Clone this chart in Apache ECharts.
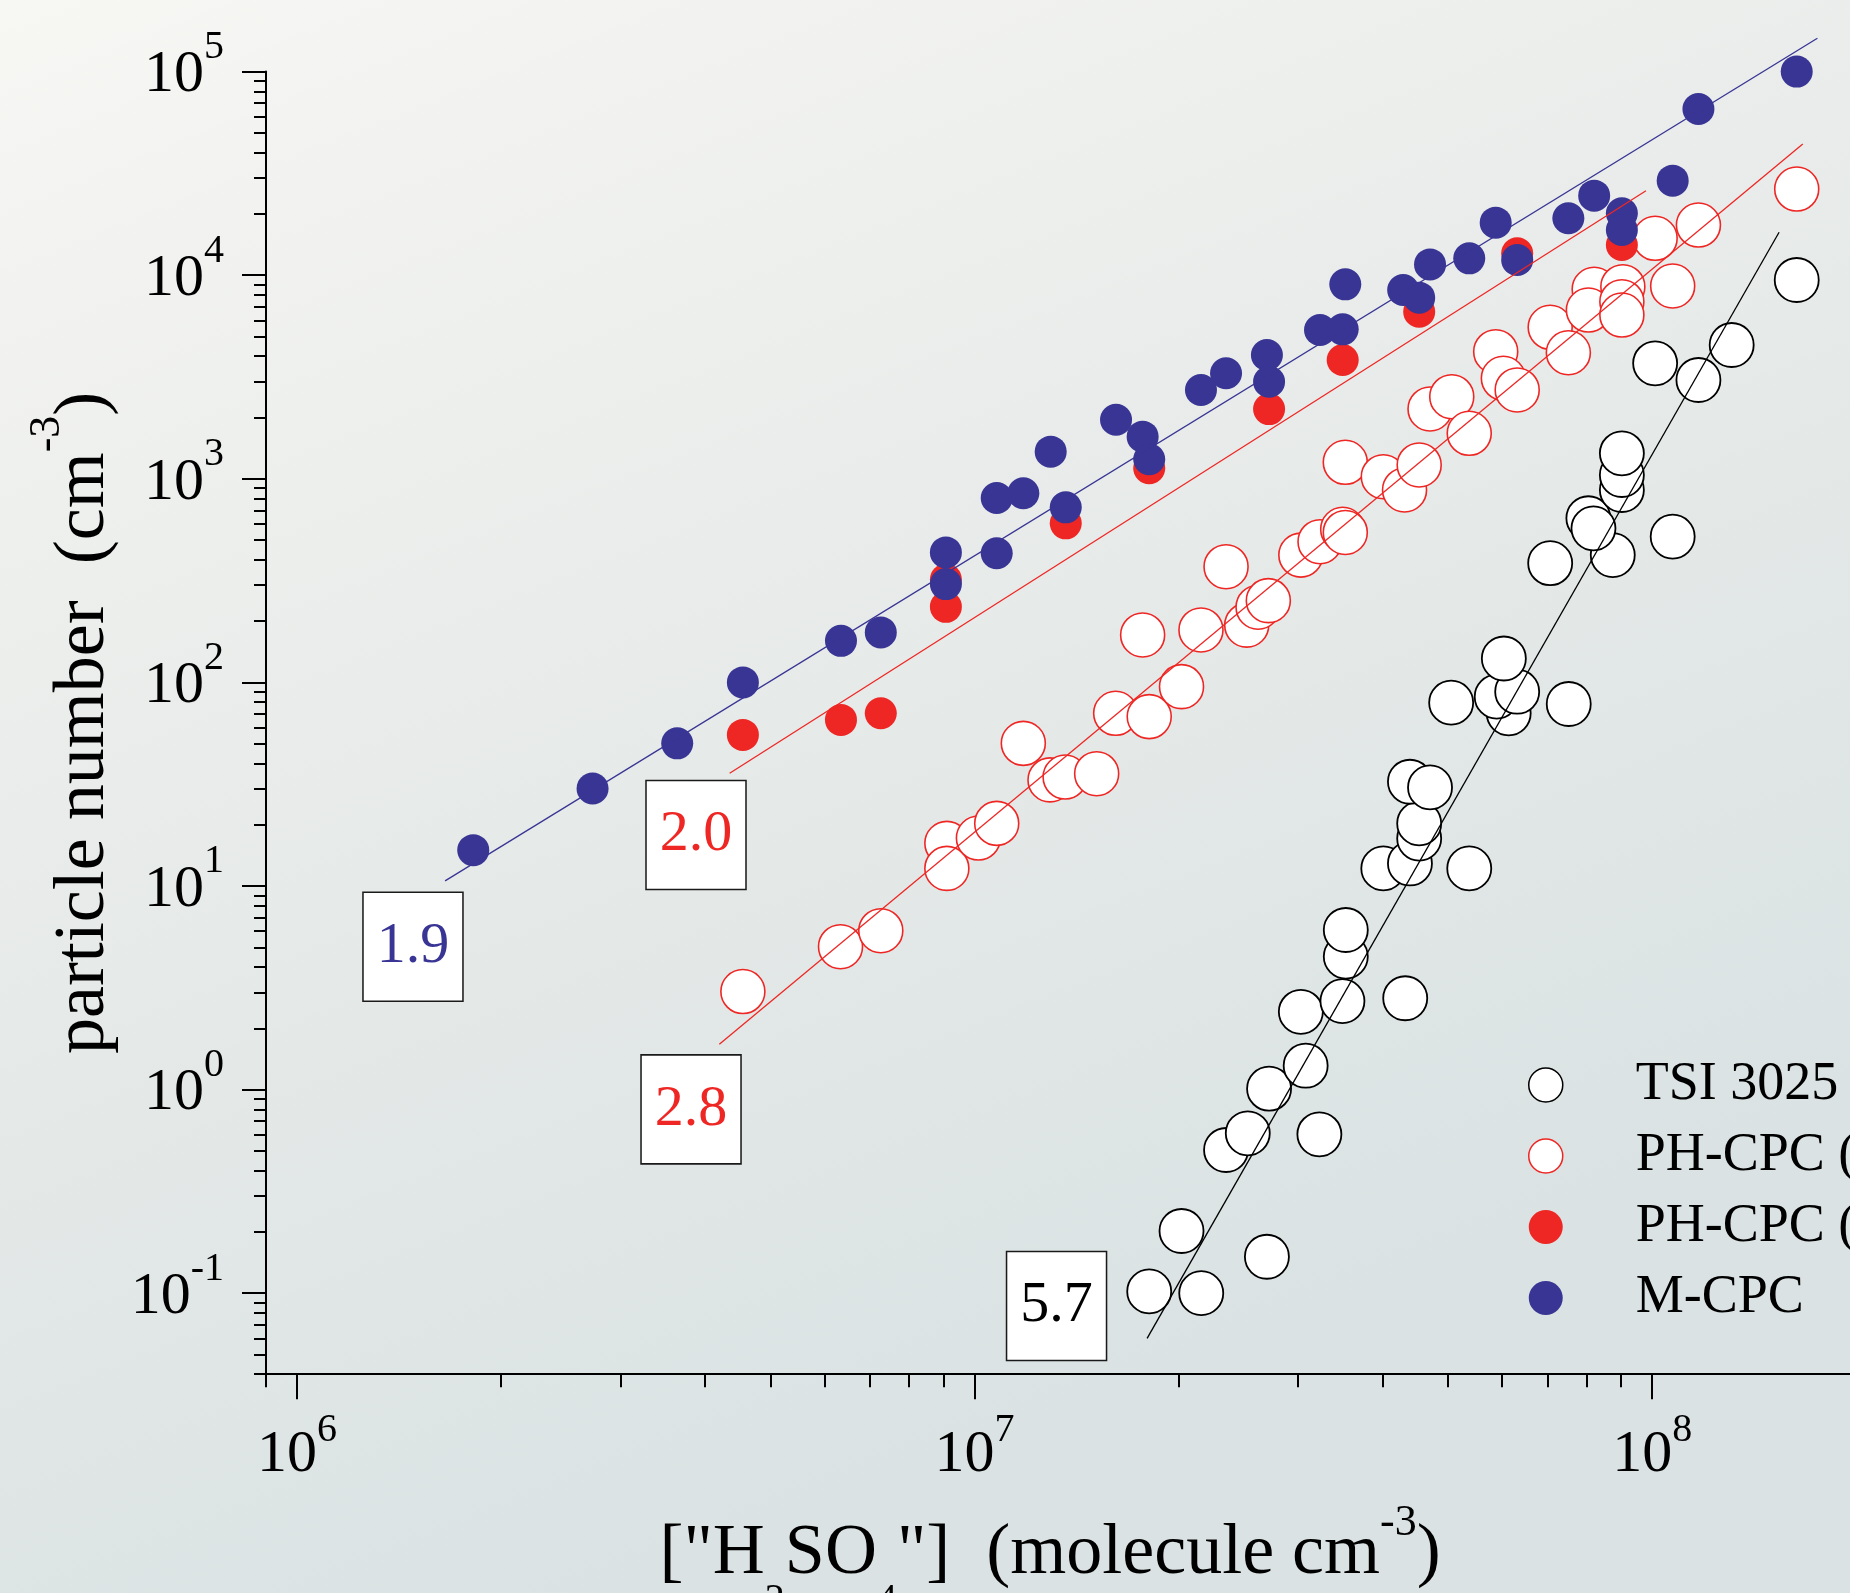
<!DOCTYPE html>
<html><head><meta charset="utf-8">
<script src="https://cdn.jsdelivr.net/npm/echarts@6/dist/echarts.min.js"></script>
<style>html,body{margin:0;padding:0;overflow:hidden;background:#eceeec;width:1850px;height:1593px}#chart{width:2100px;height:1593px}</style>
</head><body><div id="chart"></div>
<script>
// ---------- data (x: ["H2SO4"] molecule cm-3, y: particle number cm-3) ----------
const tsi3025 = [
  [1.81e7,0.102],[2.16e7,0.100],[2.02e7,0.202],[2.70e7,0.151],[2.35e7,0.505],[2.53e7,0.61],
  [3.227e7,0.603],[2.72e7,1.01],[3.08e7,1.31],[3.03e7,2.41],[3.49e7,2.72],[4.32e7,2.81],
  [3.53e7,4.5],[3.53e7,6.08],[4.01e7,12.2],[4.39e7,12.9],[5.37e7,12.2],[4.53e7,17.1],
  [4.53e7,20.3],[4.39e7,32.5],[4.70e7,30.5],[5.05e7,79.5],[6.14e7,70.5],[5.895e7,85.1],
  [6.32e7,90],[6.04e7,131],[7.53e7,78.3],[7.07e7,385],[8.745e7,422],[8.05e7,640],
  [8.19e7,571],[9.02e7,881],[9.02e7,1044],[9.02e7,1334],[1.072e8,520],[1.01e8,3692],
  [1.17e8,3057],[1.31e8,4540],[1.634e8,9470]
];
const phcpcOpen = [
  [4.55e6,3.03],[6.34e6,5.03],[7.27e6,6.03],[9.1e6,16.2],[9.1e6,12.2],[1.013e7,17.2],
  [1.078e7,20.3],[1.18e7,50.2],[1.292e7,33.2],[1.36e7,34.3],[1.514e7,35.6],[1.615e7,70.5],
  [1.81e7,67.9],[2.02e7,95.3],[1.77e7,171],[2.158e7,181],[2.521e7,191],[2.62e7,234],
  [2.713e7,252],[2.35e7,370],[3.03e7,422],[3.234e7,491],[3.493e7,565],[3.524e7,545],
  [3.524e7,1205],[4.01e7,1024],[4.31e7,881],[4.53e7,1169],[4.70e7,2203],[5.06e7,2530],
  [5.37e7,1673],[5.875e7,4210],[6.03e7,3116],[6.32e7,2730],[7.07e7,5550],[7.52e7,4160],
  [8.21e7,8530],[8.05e7,6745],[9.05e7,8780],[9.02e7,7410],[9.02e7,6375],[1.01e8,15180],
  [1.072e8,8850],[1.17e8,17640],[1.634e8,26500]
];
const phcpcFilled = [
  [4.55e6,55.2],[6.35e6,65.4],[7.27e6,70.5],[9.07e6,320],[9.07e6,235],[1.363e7,604],
  [1.81e7,1126],[2.72e7,2200],[3.493e7,3832],[4.53e7,6620],[6.32e7,12810],[9.02e7,14070]
];
const mcpc = [
  [1.82e6,15.0],[2.73e6,30.1],[3.64e6,50.2],[4.55e6,100],[6.35e6,160],[7.27e6,176],
  [9.07e6,435],[9.07e6,304],[1.078e7,431],[1.078e7,805],[1.18e7,849],[1.295e7,1359],
  [1.363e7,724],[1.617e7,1950],[1.77e7,1610],[1.81e7,1247],[2.158e7,2730],[2.35e7,3300],
  [2.70e7,4055],[2.72e7,2998],[3.234e7,5380],[3.493e7,5420],[3.524e7,9020],[4.29e7,8460],
  [4.53e7,7755],[4.70e7,11300],[5.37e7,12100],[5.875e7,18110],[6.32e7,11880],[7.52e7,19030],
  [8.21e7,24580],[9.02e7,20140],[9.02e7,16670],[1.072e8,29130],[1.17e8,65500],[1.634e8,100000]
];
// fitted power-law lines (end points)
const fitMCPC   = [[1.654e6,10.6],[1.753e8,1.458e5]];
const fitFilled = [[4.35e6,35.8],[9.79e7,26000]];
const fitOpen   = [[4.2e6,1.67],[1.668e8,44100]];
const fitTSI    = [[1.797e7,0.060],[1.539e8,16250]];
const slopeTexts = ['1.9','2.0','2.8','5.7'];
const seriesNames = ['TSI 3025','PH-CPC (total)','PH-CPC (detected)','M-CPC'];
// tick values
const xMajor = [1e6,1e7,1e8];
const xMinor = [9e5,2e6,3e6,4e6,5e6,6e6,7e6,8e6,9e6,2e7,3e7,4e7,5e7,6e7,7e7,8e7,9e7,2e8];
const yMajor = [0.1,1,10,100,1000,10000,100000];
const yMinor = [0.04,0.05,0.06,0.07,0.08,0.09,
  0.2,0.3,0.4,0.5,0.6,0.7,0.8,0.9, 2,3,4,5,6,7,8,9, 20,30,40,50,60,70,80,90,
  200,300,400,500,600,700,800,900, 2000,3000,4000,5000,6000,7000,8000,9000,
  20000,30000,40000,50000,60000,70000,80000,90000];

// ---------- styling / chart ----------
const FONT = "'Liberation Serif','Times New Roman',serif";
const BLUE = '#393594', RED = '#ee2724', BLACK = '#000';
function powLabel(v){ const e = Math.round(Math.log10(v)); return '{b|10}{s|' + e + '}'; }
const powRichY = {
  b: {fontFamily: FONT, fontSize: 60, color: '#000', lineHeight: 86, verticalAlign: 'bottom'},
  s: {fontFamily: FONT, fontSize: 40, color: '#000', lineHeight: 40, verticalAlign: 'top', padding: [8, 0, 0, 0]}
};
const powRichX = {
  b: {fontFamily: FONT, fontSize: 60, color: '#000', lineHeight: 75, verticalAlign: 'bottom'},
  s: {fontFamily: FONT, fontSize: 40, color: '#000', lineHeight: 40, verticalAlign: 'top'}
};
const titleRichX = {
  t: {fontFamily: FONT, fontSize: 72, color: '#000', lineHeight: 89, verticalAlign: 'bottom'},
  sup: {fontFamily: FONT, fontSize: 44, color: '#000', lineHeight: 44, verticalAlign: 'top'},
  sub: {fontFamily: FONT, fontSize: 40, color: '#000', lineHeight: 10, verticalAlign: 'top', padding: [79, 0, 0, 0]}
};
const titleRichY = {
  t: {fontFamily: FONT, fontSize: 72, color: '#000', lineHeight: 110, verticalAlign: 'bottom'},
  sup: {fontFamily: FONT, fontSize: 44, color: '#000', lineHeight: 44, verticalAlign: 'top', padding: [16, 0, 0, 0]}
};
const tickLine = {color: '#000', width: 2};
const XMIN = 9e5, XMAX = 2e8, YMIN = 0.04, YMAX = 1e5;

const chart = echarts.init(document.getElementById('chart'), null, {renderer: 'canvas'});
const scatterBase = {type: 'scatter', clip: false, silent: true, emphasis: {disabled: true}, xAxisIndex: 0, yAxisIndex: 0};
const fitBase = {type: 'line', clip: false, silent: true, symbol: 'none', showSymbol: false, z: 6, xAxisIndex: 0, yAxisIndex: 0, emphasis: {disabled: true}};
const slopeColors = [BLUE, RED, RED, BLACK];
const slopeAnchors = [[1.483e6,5.03],[3.88e6,17.8],[3.815e6,0.80],[1.321e7,0.0865]];

chart.setOption({
  animation: false,
  backgroundColor: {type: 'linear', x: 0, y: 0, x2: 0.3, y2: 1,
    colorStops: [{offset: 0, color: '#f7f7f4'}, {offset: 0.45, color: '#e9ecea'}, {offset: 1, color: '#dae2e3'}]},
  grid: {left: 266, top: 71.6, width: 1590.2, height: 1302.6, containLabel: false, outerBoundsMode: 'none'},
  legend: {
    orient: 'vertical', left: 1528, top: 1058, padding: 0,
    itemWidth: 170, itemHeight: 34, itemGap: 17, selectedMode: false,
    textStyle: {fontFamily: FONT, fontSize: 54, color: '#000'},
    data: [
      {name: seriesNames[0], itemStyle: {borderWidth: 1.5}},
      {name: seriesNames[1], itemStyle: {borderWidth: 1.5}},
      {name: seriesNames[2]},
      {name: seriesNames[3]}
    ]
  },
  xAxis: [
    {type: 'log', logBase: 10, min: XMIN, max: XMAX, position: 'bottom', gridIndex: 0,
     axisLine: {show: true, lineStyle: tickLine},
     axisTick: {show: true, length: 25, customValues: xMajor, lineStyle: tickLine},
     axisLabel: {show: true, customValues: xMajor, formatter: powLabel, rich: powRichX, margin: 36},
     splitLine: {show: false},
     name: '{t|["H}{sub|2}{t|SO}{sub|4}{t|"]  (molecule cm}{sup|-3}{t|)}',
     nameLocation: 'middle', nameGap: 127,
     nameTextStyle: {rich: titleRichX, fontFamily: FONT, fontSize: 72, color: '#000', padding: [0, 22, 0, 0]}},
    {type: 'log', logBase: 10, min: XMIN, max: XMAX, position: 'bottom', gridIndex: 0, offset: 0,
     axisLine: {show: false},
     axisTick: {show: true, length: 13, customValues: xMinor, lineStyle: tickLine},
     axisLabel: {show: false}, splitLine: {show: false}}
  ],
  yAxis: [
    {type: 'log', logBase: 10, min: YMIN, max: YMAX, position: 'left', gridIndex: 0,
     axisLine: {show: true, lineStyle: tickLine},
     axisTick: {show: true, length: 24, customValues: yMajor, lineStyle: tickLine},
     axisLabel: {show: true, customValues: yMajor, formatter: powLabel, rich: powRichY, margin: 42, padding: [0, 0, 18, 0]},
     splitLine: {show: false},
     name: '{t|particle number  (cm}{sup|-3}{t|)}',
     nameLocation: 'middle', nameGap: 127,
     nameTextStyle: {rich: titleRichY, fontFamily: FONT, fontSize: 72, color: '#000'}},
    {type: 'log', logBase: 10, min: YMIN, max: YMAX, position: 'left', gridIndex: 0, offset: 0,
     axisLine: {show: false},
     axisTick: {show: true, length: 12, customValues: yMinor, lineStyle: tickLine},
     axisLabel: {show: false}, splitLine: {show: false}}
  ],
  series: [
    Object.assign({}, scatterBase, {name: seriesNames[0], data: tsi3025, z: 2, symbol: 'circle', symbolSize: 44,
      itemStyle: {color: '#ffffff', borderColor: BLACK, borderWidth: 1.8, opacity: 1}}),
    Object.assign({}, scatterBase, {name: seriesNames[1], data: phcpcOpen, z: 3, symbol: 'circle', symbolSize: 44,
      itemStyle: {color: '#ffffff', borderColor: RED, borderWidth: 1.6, opacity: 1}}),
    Object.assign({}, scatterBase, {name: seriesNames[2], data: phcpcFilled, z: 4, symbol: 'circle', symbolSize: 32,
      itemStyle: {color: RED, opacity: 1}}),
    Object.assign({}, scatterBase, {name: seriesNames[3], data: mcpc, z: 5, symbol: 'circle', symbolSize: 32,
      itemStyle: {color: BLUE, opacity: 1}}),
    Object.assign({}, fitBase, {name: 'fit M-CPC', data: fitMCPC, lineStyle: {color: BLUE, width: 1.3}}),
    Object.assign({}, fitBase, {name: 'fit PH-CPC filled', data: fitFilled, lineStyle: {color: RED, width: 1.3}}),
    Object.assign({}, fitBase, {name: 'fit PH-CPC open', data: fitOpen, lineStyle: {color: RED, width: 1.3}}),
    Object.assign({}, fitBase, {name: 'fit TSI', data: fitTSI, lineStyle: {color: BLACK, width: 1.3}}),
    Object.assign({}, scatterBase, {name: 'slopes', z: 8, symbol: 'rect', symbolSize: [100, 109],
      itemStyle: {color: '#ffffff', borderColor: '#1a1a1a', borderWidth: 1.6, opacity: 1},
      label: {show: true, position: 'inside', formatter: '{b}', fontFamily: FONT, fontSize: 58},
      data: slopeTexts.map((t, i) => ({name: t, value: slopeAnchors[i], label: {color: slopeColors[i]}}))})
  ]
});
</script></body></html>
